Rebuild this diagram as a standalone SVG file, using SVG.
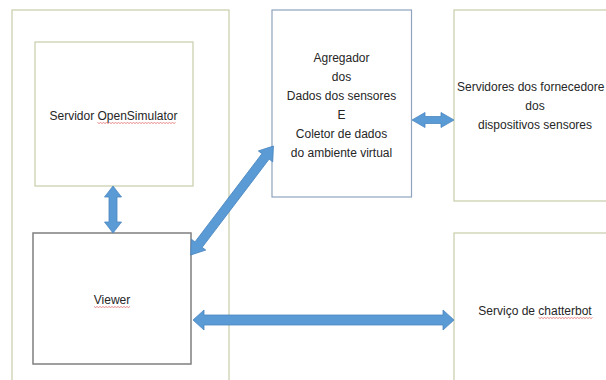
<svg xmlns="http://www.w3.org/2000/svg" width="606" height="380" viewBox="0 0 606 380">
  <style>
    .green { fill: #ffffff; stroke: #c7cea9; stroke-width: 1.2; }
    .blue { fill: #ffffff; stroke: #8ea3bd; stroke-width: 1.2; }
    .gray { fill: #ffffff; stroke: #7f7f7f; stroke-width: 1.5; }
    .lbl { font-family: "Liberation Sans", Arial, sans-serif; font-size: 12px; fill: #262626; text-anchor: middle; }
    .arrow { fill: #5b9bd5; stroke: #4a86c0; stroke-width: 0.8; stroke-linejoin: miter; }
    .squig { fill: none; stroke: #e05a5a; stroke-width: 0.7; }
  </style>
  <rect width="606" height="380" fill="#ffffff"/>

  <g id="ambiente-virtual">
    <rect class="green" x="12" y="10" width="217" height="380"/>
  </g>

  <g id="servidor-opensimulator">
    <rect class="green" x="35" y="42" width="158" height="144"/>
    <text class="lbl" x="113.5" y="119.5">Servidor OpenSimulator</text>
    <path class="squig" d="M97.5 122.5 l1.5 1 l1.5 -1 l1.5 1 l1.5 -1 l1.5 1 l1.5 -1 l1.5 1 l1.5 -1 l1.5 1 l1.5 -1 l1.5 1 l1.5 -1 l1.5 1 l1.5 -1 l1.5 1 l1.5 -1 l1.5 1 l1.5 -1 l1.5 1 l1.5 -1 l1.5 1 l1.5 -1 l1.5 1 l1.5 -1 l1.5 1 l1.5 -1 l1.5 1 l1.5 -1 l1.5 1 l1.5 -1 l1.5 1 l1.5 -1 l1.5 1 l1.5 -1 l1.5 1 l1.5 -1 l1.5 1 l1.5 -1 l1.5 1 l1.5 -1 l1.5 1 l1.5 -1 l1.5 1 l1.5 -1 l1.5 1 l1.5 -1 l1.5 1 l1.5 -1 l1.5 1 l1.5 -1 l1.5 1 l1.5 -1"/>
  </g>

  <g id="viewer">
    <rect class="gray" x="33" y="233" width="158" height="131"/>
    <text class="lbl" x="112" y="303.5">Viewer</text>
    <path class="squig" d="M94 306.5 l1.5 1 l1.5 -1 l1.5 1 l1.5 -1 l1.5 1 l1.5 -1 l1.5 1 l1.5 -1 l1.5 1 l1.5 -1 l1.5 1 l1.5 -1 l1.5 1 l1.5 -1 l1.5 1 l1.5 -1 l1.5 1 l1.5 -1 l1.5 1 l1.5 -1 l1.5 1 l1.5 -1 l1.5 1 l1.5 -1"/>
  </g>

  <g id="agregador">
    <rect class="blue" x="272" y="10" width="139.5" height="187"/>
    <text class="lbl" x="341.5" y="62">Agregador</text>
    <text class="lbl" x="341.5" y="81">dos</text>
    <text class="lbl" x="341.5" y="100">Dados dos sensores</text>
    <text class="lbl" x="341.5" y="119">E</text>
    <text class="lbl" x="341.5" y="138">Coletor de dados</text>
    <text class="lbl" x="341.5" y="157">do ambiente virtual</text>
  </g>

  <g id="servidores-fornecedores">
    <rect class="green" x="454" y="10" width="170" height="191"/>
    <text class="lbl" x="457" y="91" style="text-anchor:start">Servidores dos fornecedore</text>
    <text class="lbl" x="535" y="110">dos</text>
    <text class="lbl" x="535" y="129">dispositivos sensores</text>
  </g>

  <g id="chatterbot">
    <rect class="green" x="454" y="233" width="170" height="170"/>
    <text class="lbl" x="535" y="314.5">Serviço de chatterbot</text>
    <path class="squig" d="M538.5 317.5 l1.5 1 l1.5 -1 l1.5 1 l1.5 -1 l1.5 1 l1.5 -1 l1.5 1 l1.5 -1 l1.5 1 l1.5 -1 l1.5 1 l1.5 -1 l1.5 1 l1.5 -1 l1.5 1 l1.5 -1 l1.5 1 l1.5 -1 l1.5 1 l1.5 -1 l1.5 1 l1.5 -1 l1.5 1 l1.5 -1 l1.5 1 l1.5 -1 l1.5 1 l1.5 -1 l1.5 1 l1.5 -1 l1.5 1 l1.5 -1 l1.5 1 l1.5 -1 l1.5 1 l1.5 -1"/>
  </g>

  <g id="connectors">
    <polygon class="arrow" points="113,186 121.5,197 117,197 117,222 121.5,222 113,233 104.5,222 109,222 109,197 104.5,197"/>
    <polygon class="arrow" points="412,120 425,112.5 425,116.5 441,116.5 441,112.5 454,120 441,127.5 441,123.5 425,123.5 425,127.5"/>
    <polygon class="arrow" points="193,320 204,310 204,315 443,315 443,310 454,320 443,330 443,325 204,325 204,330"/>
    <polygon class="arrow" transform="translate(190.7 255) rotate(-52.8)" points="0,0 13,-9 13,-4.5 123.8,-4.5 123.8,-9 136.8,0 123.8,9 123.8,4.5 13,4.5 13,9"/>
  </g>
</svg>
